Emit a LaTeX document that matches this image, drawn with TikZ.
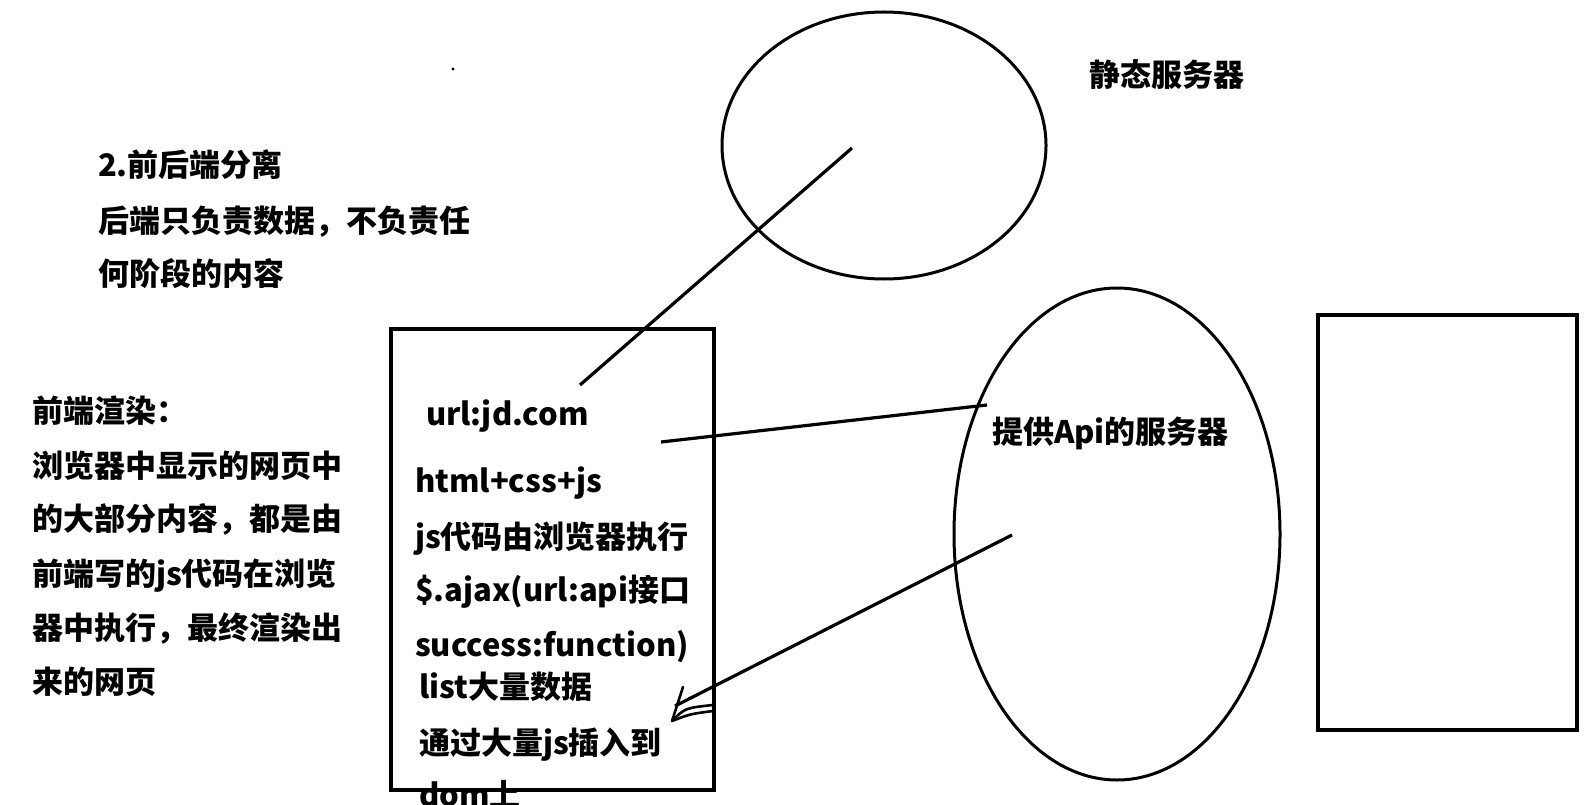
\documentclass[tikz,border=0pt]{standalone}
\usepackage{fontspec}
\setmainfont{Noto Sans CJK SC}
\usetikzlibrary{shapes.geometric}
\begin{document}
\begin{tikzpicture}[x=1pt,y=-1pt,
  txt/.style={anchor=base west, inner sep=0pt, outer sep=0pt, font=\bfseries\fontsize{31}{31}\selectfont},
  oval/.style={draw, ellipse, line width=3pt, inner sep=0pt},
  frame/.style={draw, rectangle, line width=3.5pt, inner sep=0pt},
  conn/.style={line width=3.2pt},
  hand/.style={line width=2.6pt, line cap=round}]
\useasboundingbox (0,0) rectangle (1589,805);
\clip (0,0) rectangle (1589,805);
\fill[white] (0,0) rectangle (1589,805);

% shapes
\node[oval, minimum width=324pt, minimum height=267pt] (static) at (884,145.5) {};
\node[oval, minimum width=326pt, minimum height=492pt] (api) at (1117,534) {};
\node[frame, minimum width=323pt, minimum height=461pt] (browser) at (552.5,559.5) {};
\node[frame, minimum width=259pt, minimum height=415pt] (page) at (1447.5,522.5) {};

% stray dot
\fill (453,69) circle (1.6);

% labels
\node[txt] (lstatic) at (1089,87) {静态服务器};
\node[txt] (lapi) at (992,443) {提供Api的服务器};

\node[txt] (t1) at (98,177) {2.前后端分离};
\node[txt] (t2) at (98,232) {后端只负责数据，不负责任};
\node[txt] (t3) at (98,285) {何阶段的内容};

\node[txt] (f1) at (32,422) {前端渲染：};
\node[txt] (f2) at (32,477) {浏览器中显示的网页中};
\node[txt] (f3) at (32,530) {的大部分内容，都是由};
\node[txt] (f4) at (32,585) {前端写的js代码在浏览};
\node[txt] (f5) at (32,639) {器中执行，最终渲染出};
\node[txt] (f6) at (32,693) {来的网页};

\node[txt] (b1) at (426,425) {url:jd.com};
\node[txt] (b2) at (415,492) {html+css+js};
\node[txt] (b3) at (415,548) {js代码由浏览器执行};
\node[txt] (b4) at (415,601) {\$.ajax(url:api接口};
\node[txt] (b5) at (415,656) {success:function)};
\node[txt] (b6) at (419,698) {list大量数据};
\node[txt] (b7) at (419,754) {通过大量js插入到};
\node[txt] (b8) at (419,806) {dom上};

% connectors
\coordinate (s1) at (852,148);
\coordinate (s2) at (580,385);
\draw[conn] (s1) -- (s2);

\coordinate (u1) at (661,442);
\coordinate (u2) at (987,405);
\draw[conn] (u1) -- (u2);

\coordinate (r1) at (1012,535);
\coordinate (r2) at (675,706);
\draw[conn] (r1) -- (r2);

% hand-drawn arrow head
\coordinate (tip) at (672,721);
\coordinate (h1) at (683,687);
\coordinate (h2) at (713,705);
\coordinate (h3) at (713,711);
\draw[hand] (h1) -- (tip);
\draw[hand] (tip) .. controls (685,708) .. (h2);
\draw[hand] (tip) .. controls (690,714) .. (h3);
\end{tikzpicture}
\end{document}
